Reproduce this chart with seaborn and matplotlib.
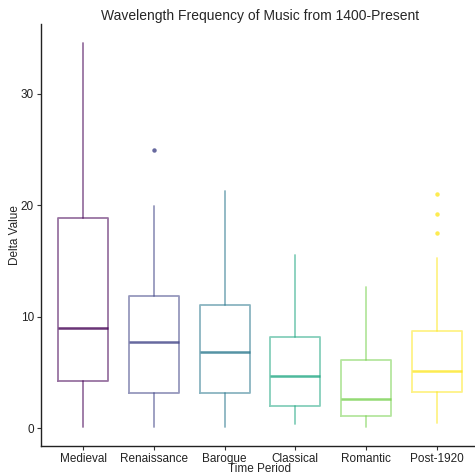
import matplotlib
matplotlib.use("Agg")
import matplotlib.pyplot as plt
import seaborn as sns
from matplotlib.colors import to_rgba

# values
periods = ["Medieval", "Renaissance", "Baroque", "Classical", "Romantic", "Post-1920"]
whisker_low = [0.15, 0.15, 0.15, 0.4, 0.12, 0.5]
q1 = [4.2, 3.2, 3.2, 2.0, 1.08, 3.22]
median = [9.0, 7.7, 6.8, 4.67, 2.65, 5.1]
q3 = [18.9, 11.85, 11.03, 8.14, 6.11, 8.73]
whisker_high = [34.6, 19.9, 21.3, 15.5, 12.66, 15.3]
outliers = [[], [25.0], [], [], [], [21.0, 19.2, 17.5]]

viridis_d = ["#440154", "#414487", "#2A788E", "#22A884", "#7AD151", "#FDE725"]


def main():
    sns.set_style("ticks")
    plt.rcParams['font.family'] = ['Liberation Sans', 'DejaVu Sans']

    fig = plt.figure(figsize=(4.75, 4.76), dpi=100)
    ax = fig.add_axes([41 / 475, 30.3 / 476, 438 / 475, 422 / 476])

    stats = []
    for i, name in enumerate(periods):
        stats.append(dict(label=name, whislo=whisker_low[i], q1=q1[i], med=median[i],
                          q3=q3[i], whishi=whisker_high[i], fliers=outliers[i]))

    for i, st in enumerate(stats):
        c = to_rgba(viridis_d[i], 0.55)
        cm = to_rgba(viridis_d[i], 0.8)
        ax.bxp([st], positions=[i], widths=0.71, showcaps=False,
               boxprops=dict(color=c, linewidth=1.3),
               whiskerprops=dict(color=c, linewidth=1.3),
               medianprops=dict(color=cm, linewidth=1.8),
               flierprops=dict(marker="o", markersize=3.2, markerfacecolor=cm,
                               markeredgecolor="none"))

    ax.set_xlim(-0.6, 5.6)
    ax.set_ylim(-1.57, 36.3)
    ax.set_yticks([0, 10, 20, 30])
    ax.set_xticks(range(len(periods)))
    ax.set_xticklabels(periods)
    ax.tick_params(axis="both", labelsize=8.5, length=3, width=0.8,
                   colors="#333333", labelcolor="#222222", pad=2)
    for side in ["left", "bottom"]:
        ax.spines[side].set_linewidth(1.0)
        ax.spines[side].set_color("#222222")
    sns.despine(ax=ax)

    ax.set_xlabel("Time Period", fontsize=8.5, labelpad=-1)
    ax.set_ylabel("Delta Value", fontsize=8.5, labelpad=-0.5)
    ax.set_title("Wavelength Frequency of Music from 1400-Present", fontsize=10, pad=3)

    fig.savefig("out.png", dpi=100)


if __name__ == "__main__":
    main()
